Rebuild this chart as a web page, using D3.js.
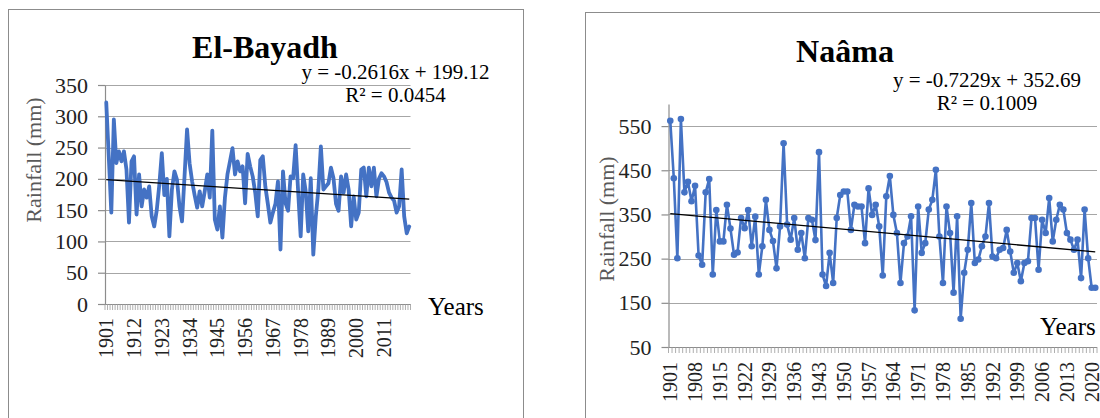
<!DOCTYPE html>
<html><head><meta charset="utf-8">
<script src="https://cdn.jsdelivr.net/npm/d3@7"></script>
<style>
body{margin:0;background:#fff}
svg{display:block}
text{font-family:"Liberation Serif","Times New Roman",serif}
</style>
</head><body>
<svg id="c" width="1100" height="418"></svg>
<script>
// ---- data ----
const years = d3.range(1901, 2022);
const bayadhRain = [322,235,146,295,225,244,228,244,215,130,
 228,236,143,207,156,183,170,188,140,124,
 150,190,241,174,200,108,183,212,199,156,
 132,204,279,225,196,174,154,180,156,180,
 207,170,277,135,119,156,106,170,207,228,
 249,207,228,212,220,161,240,220,204,178,
 140,230,236,188,160,130,146,160,196,87,
 212,161,149,204,201,254,180,108,207,180,
 116,201,79,140,183,252,183,188,193,218,
 201,160,149,204,178,207,183,124,172,135,
 146,215,218,172,218,188,218,172,200,209,
 204,195,178,170,165,146,156,215,140,113,
 124];
const naamaRain = [562,432,251,566,400,424,380,415,257,236,
 400,430,214,360,289,289,372,318,259,264,
 342,319,360,278,345,214,278,383,315,290,
 228,323,511,327,293,342,270,308,251,342,
 338,292,491,214,188,263,195,342,394,402,
 402,315,372,368,368,285,409,349,372,323,
 212,391,437,349,308,195,285,300,346,133,
 368,263,285,361,383,451,300,195,368,308,
 173,346,114,218,270,376,240,248,278,300,
 376,255,251,270,274,315,266,218,240,199,
 240,244,342,342,225,338,308,387,289,338,
 372,361,308,293,270,293,206,361,251,184,
 184];
const bayadhXTicks = [1901,1912,1923,1934,1945,1956,1967,1978,1989,2000,2011];
const naamaXTicks = [1901,1908,1915,1922,1929,1936,1943,1950,1957,1964,1971,1978,1985,1992,1999,2006,2013,2020];
const bayadhYTicks = [0,50,100,150,200,250,300,350];
const naamaYTicks = [50,150,250,350,450,550];
const bayadhYDomain = [0,350];
const naamaYDomain = [50,600];
const bayadhTrend = [-0.2616, 199.12];
const naamaTrend = [-0.7229, 352.69];
const bayadhLabels = ["El-Bayadh","y = -0.2616x + 199.12","R² = 0.0454"];
const naamaLabels = ["Naâma","y = -0.7229x + 352.69","R² = 0.1009"];

const svg = d3.select("#c");
const BLUE = "#4472C4";
const FONT = "'Liberation Serif','Times New Roman',serif";

function drawChart(c){
  const g = svg.append("g");
  g.append("rect").attr("x",c.frame[0]).attr("y",c.frame[1]).attr("width",c.frame[2]).attr("height",c.frame[3])
    .attr("fill","none").attr("stroke","#8c8c8c").attr("stroke-width",1);
  const x = d3.scaleBand().domain(years).range([c.x0,c.x1]);
  const bw = x.bandwidth();
  const y = d3.scaleLinear().domain(c.yDomain).range([c.yB,c.yT]);
  // gridlines
  g.append("g").selectAll("line").data(c.yTicks.filter(t=>t>c.yDomain[0])).join("line")
    .attr("x1",c.x0).attr("x2",c.x1).attr("y1",d=>Math.round(y(d))+0.5).attr("y2",d=>Math.round(y(d))+0.5)
    .attr("stroke","#a6a6a6").attr("stroke-width",1.2);
  // y axis
  const ya = g.append("g").attr("transform",`translate(${c.x0},0)`)
    .call(d3.axisLeft(y).tickValues(c.yTicks).tickSize(7).tickSizeOuter(0).tickPadding(10));
  ya.attr("font-family",FONT);
  ya.select(".domain").attr("stroke","#8c8c8c").attr("stroke-width",1.2);
  ya.selectAll(".tick line").attr("stroke","#8c8c8c").attr("stroke-width",1.2);
  ya.selectAll(".tick text").style("font-family",FONT).style("font-size","22px").attr("fill","#222");
  // x axis line + minor ticks at each category boundary
  const xa = g.append("g").attr("transform",`translate(0,${c.yB})`);
  xa.append("line").attr("x1",c.x0).attr("x2",c.x1).attr("y1",0.5).attr("y2",0.5).attr("stroke","#8c8c8c").attr("stroke-width",1.2);
  xa.selectAll("line.mt").data(years.concat([null])).join("line").attr("class","mt")
    .attr("x1",(d,i)=>c.x0+i*bw).attr("x2",(d,i)=>c.x0+i*bw).attr("y1",0).attr("y2",6)
    .attr("stroke","#9a9a9a").attr("stroke-width",0.8);
  const xl = g.append("g").attr("transform",`translate(0,${c.yB})`)
    .call(d3.axisBottom(x).tickValues(c.xTicks).tickSize(0).tickSizeOuter(0));
  xl.attr("font-family",FONT);
  xl.select(".domain").remove();
  xl.selectAll(".tick text").attr("transform","rotate(-90)").attr("x",-c.labGap).attr("y",0).attr("dy","0.35em")
    .style("text-anchor","end").style("font-family",FONT).style("font-size","20px").attr("fill","#222");
  // series
  const pts = years.map((yr,i)=>({yr, v:c.values[i]}));
  const line = d3.line().x(d=>x(d.yr)+bw/2).y(d=>y(d.v));
  g.append("path").datum(pts).attr("d",line).attr("fill","none").attr("stroke",BLUE)
    .attr("stroke-width",c.lw).attr("stroke-linejoin","round").attr("stroke-linecap","round");
  if(c.markers){
    g.append("g").selectAll("circle").data(pts).join("circle")
      .attr("cx",d=>x(d.yr)+bw/2).attr("cy",d=>y(d.v)).attr("r",3.3).attr("fill",BLUE);
  }
  // trendline
  const n = years.length;
  g.append("line")
    .attr("x1",x(years[0])+bw/2).attr("y1",y(c.trend[1]+c.trend[0]*1))
    .attr("x2",x(years[n-1])+bw/2).attr("y2",y(c.trend[1]+c.trend[0]*n))
    .attr("stroke","#000").attr("stroke-width",1.3);
  // texts
  g.append("text").attr("x",c.title[0]).attr("y",c.title[1]).attr("text-anchor","middle")
    .style("font-size","32px").style("font-weight","bold").attr("fill","#000").text(c.labels[0]);
  g.append("text").attr("x",c.eq[0]).attr("y",c.eq[1]).attr("text-anchor","middle")
    .style("font-size","21px").attr("fill","#000").text(c.labels[1]);
  g.append("text").attr("x",c.eq[0]).attr("y",c.eq[2]).attr("text-anchor","middle")
    .style("font-size","21px").attr("fill","#000").text(c.labels[2]);
  g.append("text").attr("transform",`translate(${c.ytitle[0]},${c.ytitle[1]}) rotate(-90)`).attr("text-anchor","middle")
    .attr("dy","0.35em").style("font-size","22px").attr("fill","#595959").text("Rainfall (mm)");
  g.append("text").attr("x",c.years[0]).attr("y",c.years[1]).style("font-size","25px").attr("fill","#000").text("Years");
}

drawChart({frame:[8.5,9.5,515,420], x0:105, x1:410.5, yB:304, yT:85, yDomain:bayadhYDomain, yTicks:bayadhYTicks,
  xTicks:bayadhXTicks, values:bayadhRain, trend:bayadhTrend, labels:bayadhLabels, lw:3.8, markers:false, labGap:14,
  title:[265,58], eq:[395.5,79,102], ytitle:[33,160], years:[428,315]});
drawChart({frame:[585.5,12.5,530,420], x0:668.5, x1:1097, yB:347, yT:104, yDomain:naamaYDomain, yTicks:naamaYTicks,
  xTicks:naamaXTicks, values:naamaRain, trend:naamaTrend, labels:naamaLabels, lw:2.6, markers:true, labGap:15,
  title:[845,62], eq:[987,87,110], ytitle:[606,219], years:[1040,335]});
</script>
</body></html>
